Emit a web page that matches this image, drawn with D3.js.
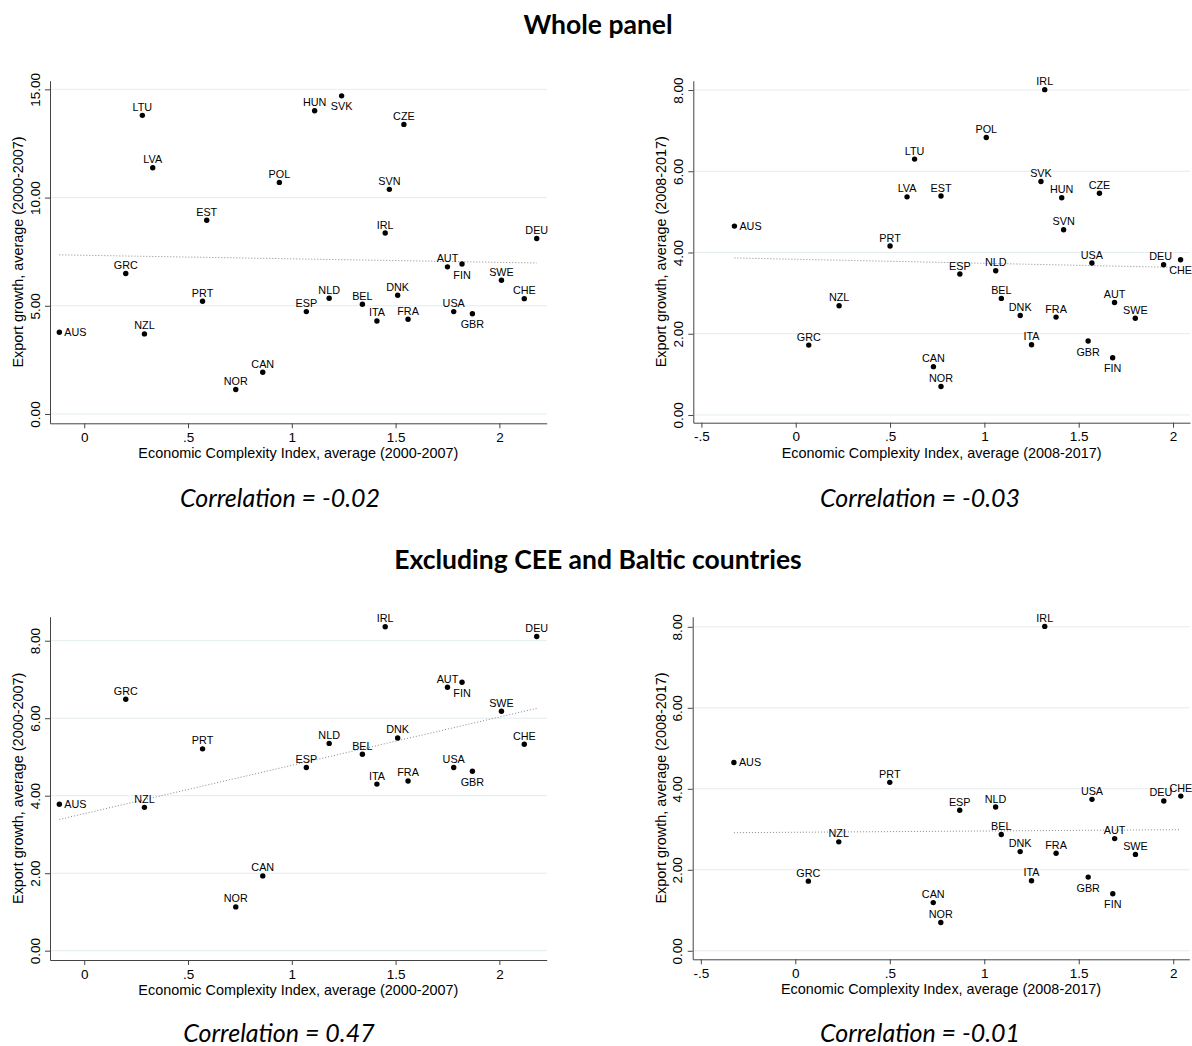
<!DOCTYPE html>
<html>
<head>
<meta charset="utf-8">
<script src="https://cdn.jsdelivr.net/npm/d3@7/dist/d3.min.js"></script>
<style>
	body { margin: 0; background: #fff; }
</style>
</head>
<body>
<div id="chart"></div>
<script>
var countries = ["AUS", "AUT", "BEL", "CAN", "CHE", "CZE", "DEU", "DNK", "ESP", "EST", "FIN", "FRA", "GBR", "GRC",
	"HUN", "IRL", "ITA", "LTU", "LVA", "NLD", "NOR", "NZL", "POL", "PRT", "SVK", "SVN", "SWE", "USA"];

// Economic Complexity Index and export growth, 2000-2007
var eci0007 = [-0.12, 1.75, 1.34, 0.86, 2.12, 1.54, 2.18, 1.51, 1.07, 0.59, 1.82, 1.56, 1.87, 0.20,
	1.11, 1.45, 1.41, 0.28, 0.33, 1.18, 0.73, 0.29, 0.94, 0.57, 1.24, 1.47, 2.01, 1.78];
var growth0007 = [3.78, 6.80, 5.07, 1.93, 5.33, 13.38, 8.11, 5.49, 4.73, 8.95, 6.93, 4.38, 4.63, 6.49,
	14.01, 8.36, 4.30, 13.80, 11.38, 5.35, 1.13, 3.70, 10.70, 5.21, 14.70, 10.38, 6.18, 4.73];

// 2008-2017
var eci0817 = [-0.325, 1.69, 1.09, 0.73, 2.04, 1.61, 1.95, 1.19, 0.87, 0.77, 1.68, 1.38, 1.55, 0.069,
	1.41, 1.32, 1.25, 0.63, 0.59, 1.06, 0.77, 0.23, 1.01, 0.50, 1.30, 1.42, 1.80, 1.57];
var growth0817 = [4.65, 2.77, 2.87, 1.19, 3.82, 5.46, 3.70, 2.45, 3.47, 5.39, 1.41, 2.41, 1.82, 1.72,
	5.35, 8.01, 1.73, 6.30, 5.37, 3.55, 0.70, 2.69, 6.83, 4.16, 5.75, 4.56, 2.38, 3.74];

var ceeBaltic = ["CZE", "EST", "HUN", "LTU", "LVA", "POL", "SVK", "SVN"];

var xTicks0007 = [0, 0.5, 1, 1.5, 2];
var xTicks0817 = [-0.5, 0, 0.5, 1, 1.5, 2];
var yTicksWide = [0, 5, 10, 15];
var yTicksNarrow = [0, 2, 4, 6, 8];

var sectionTitles = ["Whole panel", "Excluding CEE and Baltic countries"];
var correlations = ["Correlation = -0.02", "Correlation = -0.03", "Correlation = 0.47", "Correlation = -0.01"];

var width = 1192, height = 1046;
var labelFont = '"Liberation Sans", Arial, Helvetica, sans-serif';
var titleFont = 'Lato, "Open Sans", sans-serif';

var panels = [
	{ x: eci0007, y: growth0007, exclude: [], below: ["SVK", "FIN", "GBR"],
		left: 50, right: 546.7, top: 80.7, bottom: 423.3, xDomain: [-0.165, 2.228], yDomain: [-0.43, 15.4],
		xTicks: xTicks0007, yTicks: yTicksWide, period: '2000-2007', corr: correlations[0], corrX: 280, corrY: 498 },
	{ x: eci0817, y: growth0817, exclude: [], below: ["CHE", "FIN", "GBR"],
		left: 693.3, right: 1190, top: 80.7, bottom: 422.7, xDomain: [-0.543, 2.09], yDomain: [-0.19, 8.23],
		xTicks: xTicks0817, yTicks: yTicksNarrow, period: '2008-2017', corr: correlations[1], corrX: 920, corrY: 498 },
	{ x: eci0007, y: growth0007, exclude: ceeBaltic, below: ["FIN", "GBR"],
		left: 50, right: 546.7, top: 616.7, bottom: 960, xDomain: [-0.165, 2.228], yDomain: [-0.24, 8.62],
		xTicks: xTicks0007, yTicks: yTicksNarrow, period: '2000-2007', corr: correlations[2], corrX: 279, corrY: 1033 },
	{ x: eci0817, y: growth0817, exclude: ceeBaltic, below: ["FIN", "GBR"],
		left: 692.7, right: 1189.3, top: 616.7, bottom: 959.3, xDomain: [-0.543, 2.085], yDomain: [-0.21, 8.25],
		xTicks: xTicks0817, yTicks: yTicksNarrow, period: '2008-2017', corr: correlations[3], corrX: 920, corrY: 1033 }
];

// Stata style: .5, -.5
var stataFormat = function(d) {
	return String(d).replace(/^0\./, '.').replace(/^-0\./, '-.');
};

var svg = d3.select('#chart').append('svg')
	.attr('width', width)
	.attr('height', height)
	.style('background', '#fff');

svg.append('text')
	.attr('x', 598).attr('y', 34)
	.attr('text-anchor', 'middle')
	.style('font-family', titleFont).style('font-weight', 'bold').style('font-size', '26.5px')
	.text(sectionTitles[0]);

svg.append('text')
	.attr('x', 598).attr('y', 569)
	.attr('text-anchor', 'middle')
	.style('font-family', titleFont).style('font-weight', 'bold').style('font-size', '26.5px')
	.text(sectionTitles[1]);

function drawPanel(p) {
	var points = countries.map(function(c, i) {
		return { name: c, x: p.x[i], y: p.y[i] };
	}).filter(function(d) { return p.exclude.indexOf(d.name) < 0; });

	var x = d3.scaleLinear().domain(p.xDomain).range([p.left, p.right]);
	var y = d3.scaleLinear().domain(p.yDomain).range([p.bottom, p.top]);

	var g = svg.append('g');

	// Grid
	g.selectAll('line.grid')
		.data(p.yTicks)
		.enter().append('line')
		.classed('grid', true)
		.attr('x1', p.left).attr('x2', p.right)
		.attr('y1', function(d) { return y(d); })
		.attr('y2', function(d) { return y(d); })
		.attr('stroke', '#e3ecee')
		.attr('stroke-width', 1);

	// Y axis
	var ya = g.append('g')
		.attr('transform', 'translate(' + p.left + ',0)')
		.call(d3.axisLeft(y).tickValues(p.yTicks).tickFormat(d3.format('.2f')).tickSize(5).tickSizeOuter(0));
	ya.attr('font-family', labelFont).attr('font-size', 13.5);
	ya.select('.domain').attr('stroke', '#444');
	ya.selectAll('.tick line').attr('stroke', '#444');
	ya.selectAll('.tick text')
		.attr('x', 0)
		.attr('dy', '0.35em')
		.attr('text-anchor', 'middle')
		.attr('fill', '#000')
		.attr('transform', 'translate(-15,0) rotate(-90)');

	// X axis
	var xa = g.append('g')
		.attr('transform', 'translate(0,' + p.bottom + ')')
		.call(d3.axisBottom(x).tickValues(p.xTicks).tickFormat(stataFormat).tickSize(5).tickPadding(4).tickSizeOuter(0));
	xa.attr('font-family', labelFont).attr('font-size', 13.5);
	xa.select('.domain').attr('stroke', '#444');
	xa.selectAll('.tick line').attr('stroke', '#444');
	xa.selectAll('.tick text').attr('fill', '#000');

	// Axis titles
	g.append('text')
		.attr('transform', 'translate(' + (p.left - 32) + ',' + ((p.top + p.bottom) / 2) + ') rotate(-90)')
		.attr('dy', '0.35em')
		.attr('text-anchor', 'middle')
		.style('font-family', labelFont).style('font-size', '14.4px')
		.text('Export growth, average (' + p.period + ')');

	g.append('text')
		.attr('x', (p.left + p.right) / 2)
		.attr('y', p.bottom + 35)
		.attr('text-anchor', 'middle')
		.style('font-family', labelFont).style('font-size', '14.4px')
		.text('Economic Complexity Index, average (' + p.period + ')');

	// Linear fit
	var mx = d3.mean(points, function(d) { return d.x; });
	var my = d3.mean(points, function(d) { return d.y; });
	var sxy = d3.sum(points, function(d) { return (d.x - mx) * (d.y - my); });
	var sxx = d3.sum(points, function(d) { return (d.x - mx) * (d.x - mx); });
	var slope = sxy / sxx;
	var ext = d3.extent(points, function(d) { return d.x; });
	g.append('line')
		.attr('x1', x(ext[0])).attr('y1', y(my + slope * (ext[0] - mx)))
		.attr('x2', x(ext[1])).attr('y2', y(my + slope * (ext[1] - mx)))
		.attr('stroke', '#888')
		.attr('stroke-width', 1)
		.attr('stroke-dasharray', '1,2');

	// Points
	g.selectAll('circle')
		.data(points)
		.enter().append('circle')
		.attr('cx', function(d) { return x(d.x); })
		.attr('cy', function(d) { return y(d.y); })
		.attr('r', 2.7)
		.attr('fill', '#000');

	// Labels
	g.selectAll('text.mlabel')
		.data(points)
		.enter().append('text')
		.classed('mlabel', true)
		.attr('x', function(d) {
			if (d.name == 'AUS') return x(d.x) + 5;
			if (d.name == 'DEU' && p.period == '2008-2017') return x(d.x) - 3;
			return x(d.x);
		})
		.attr('y', function(d) {
			if (d.name == 'AUS') return y(d.y) + 3.8;
			if (p.below.indexOf(d.name) >= 0) return y(d.y) + 14.5;
			return y(d.y) - 4.5;
		})
		.attr('text-anchor', function(d) { return d.name == 'AUS' ? 'start' : 'middle'; })
		.style('font-family', labelFont).style('font-size', '10.8px')
		.text(function(d) { return d.name; });

	// Correlation note
	svg.append('text')
		.attr('x', p.corrX)
		.attr('y', p.corrY + 9)
		.attr('text-anchor', 'middle')
		.style('font-family', titleFont).style('font-style', 'italic').style('font-size', '25px')
		.text(p.corr);
}

panels.forEach(drawPanel);
</script>
</body>
</html>
